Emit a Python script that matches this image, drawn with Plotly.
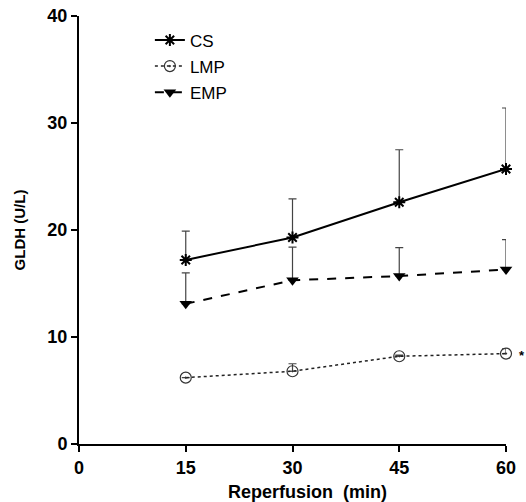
import plotly.graph_objects as go

time_min = [15, 30, 45, 60]
cs_mean = [17.2, 19.3, 22.6, 25.7]
cs_err = [2.7, 3.6, 4.9, 5.7]
lmp_mean = [6.2, 6.8, 8.2, 8.45]
lmp_err = [0.0, 0.7, 0.1, 0.45]
emp_mean = [13.1, 15.3, 15.7, 16.3]
emp_err = [2.9, 3.1, 2.65, 2.8]

x_ticks = [0, 15, 30, 45, 60]
y_ticks = [0, 10, 20, 30, 40]

err_color = "#444444"

def err(vals):
    return dict(type="data", array=vals, arrayminus=[0] * len(vals), symmetric=False,
                color=err_color, thickness=1.2, width=4)

fig = go.Figure()
fig.add_trace(go.Scatter(
    x=time_min, y=cs_mean, name="CS", mode="lines+markers", legendgroup="a", cliponaxis=False,
    line=dict(color="black", width=2, dash="solid"),
    marker=dict(symbol="asterisk-open", size=10, color="black", line=dict(color="black", width=2)),
    error_y=err(cs_err)))
fig.add_trace(go.Scatter(
    x=time_min, y=lmp_mean, name="LMP", mode="lines+markers", legendgroup="b", cliponaxis=False,
    line=dict(color="#222222", width=1.5, dash="dot"),
    marker=dict(symbol="circle-open-dot", size=11, color="#333333", line=dict(color="#333333", width=1.2)),
    error_y=err(lmp_err)))
fig.add_trace(go.Scatter(
    x=time_min, y=emp_mean, name="EMP", mode="lines+markers", legendgroup="c", cliponaxis=False,
    line=dict(color="black", width=2, dash="dash"),
    marker=dict(symbol="triangle-down", size=11, color="black"),
    error_y=err(emp_err)))

fig.add_annotation(xref="paper", x=1, yref="y", y=lmp_mean[3], text="<b>*</b>", showarrow=False,
                   xanchor="center", xshift=16, yshift=-2, font=dict(size=13, color="black"))

fig.add_annotation(xref="paper", yref="paper", x=0.534, y=0, text="<b>Reperfusion  (min)</b>",
                   showarrow=False, xanchor="center", yanchor="middle", yshift=-48,
                   font=dict(size=18, color="black"))

fig.update_layout(
    width=526, height=502,
    margin=dict(l=79, r=20, t=16, b=58, autoexpand=False),
    paper_bgcolor="white", plot_bgcolor="white",
    font=dict(family="Liberation Sans, Arial, sans-serif", color="black"),
    showlegend=True,
    legend=dict(x=0.166, y=0.985, xanchor="left", yanchor="top", bgcolor="rgba(0,0,0,0)",
                font=dict(size=17, color="black"), itemwidth=30, tracegroupgap=1),
    xaxis=dict(range=[0, 60], tickvals=x_ticks, ticktext=[f"<b>{v}</b>" for v in x_ticks],
               showgrid=False, zeroline=False, showline=True, linecolor="black", linewidth=2,
               ticks="outside", ticklen=6, tickwidth=1.5, tickcolor="black", ticklabeloverflow="allow",
               automargin=False, tickfont=dict(size=18)),
    yaxis=dict(range=[0, 40], tickvals=y_ticks, ticktext=[f"<b>{v}</b>" for v in y_ticks],
               showgrid=False, zeroline=False, showline=True, linecolor="black", linewidth=2,
               ticks="outside", ticklen=6, tickwidth=1.5, tickcolor="black", ticklabeloverflow="allow",
               automargin=False, tickfont=dict(size=18),
               title=dict(text="<b>GLDH (U/L)</b>", font=dict(size=15), standoff=18)),
)

fig.write_html("out.html", config={"displayModeBar": False},
               post_script="document.body.style.margin='0';document.body.style.overflow='hidden';")
